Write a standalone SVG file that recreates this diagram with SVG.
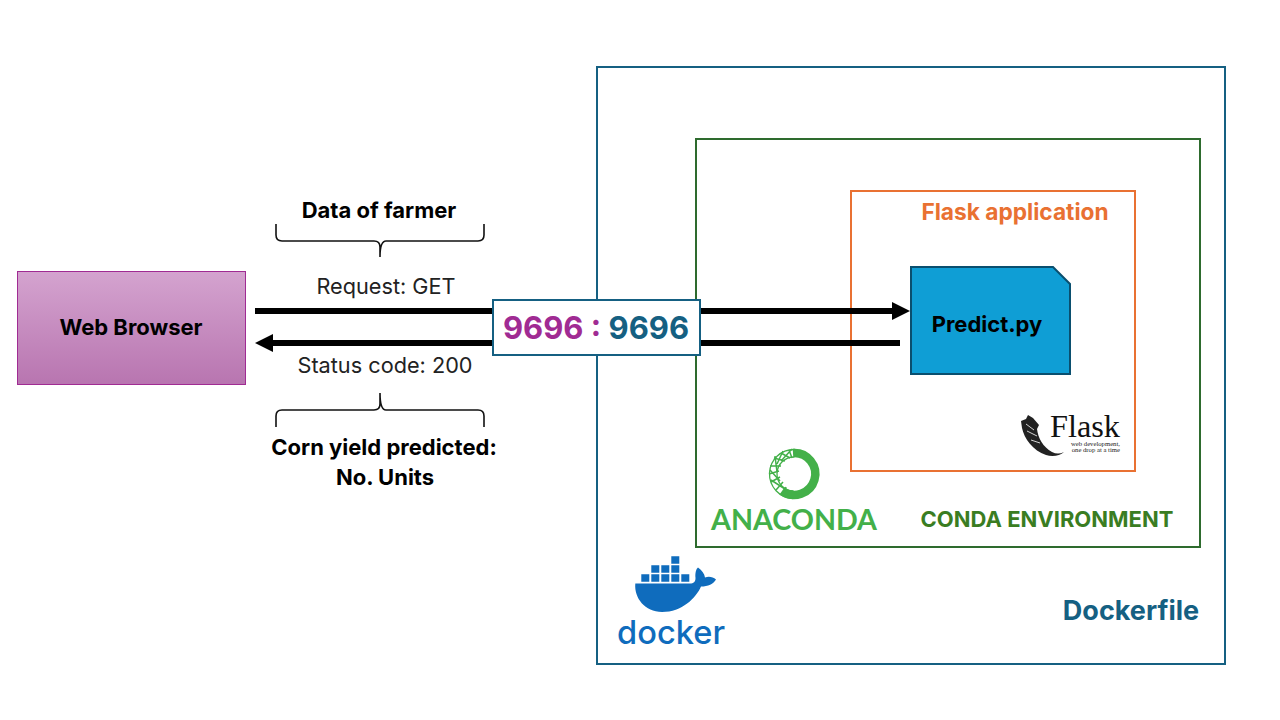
<svg xmlns="http://www.w3.org/2000/svg" width="1280" height="720" viewBox="0 0 1280 720">
<defs>
<marker id="arrow" markerUnits="userSpaceOnUse" markerWidth="19" markerHeight="18" refX="9" refY="9" orient="auto"><path d="M0 0L18 9L0 18Z" fill="#000"/></marker>
<linearGradient id="pg" x1="0" y1="0" x2="0" y2="1"><stop offset="0" stop-color="#d4a3cf"/><stop offset="1" stop-color="#b875b0"/></linearGradient>
</defs>
<style>
text{font-family:Inter,"Liberation Sans",sans-serif;text-anchor:middle}
.b{font-weight:700;font-size:22px;fill:#000}
.r{font-size:21.700px;fill:#222}
.frame{fill:none;stroke-width:2}
.link{stroke:#000;stroke-width:6;fill:none}
.brace{stroke:#111;stroke-width:1.600;fill:none}
</style>
<rect width="1280" height="720" fill="#fff"/>
<g id="dockerfile">
<rect class="frame" x="597" y="67" width="628" height="597" stroke="#156082"/>
<text x="1131" y="620" font-size="27" font-weight="700" fill="#156082">Dockerfile</text>
<g id="docker-logo" fill="#0f6cbd">
<path d="M671.300 556.300h8v7.400h-8zM651.300 565.300h8v7.400h-8zM661.300 565.300h8v7.400h-8zM671.300 565.300h8v7.400h-8zM641.300 574.300h8v7.400h-8zM651.300 574.300h8v7.400h-8zM661.300 574.300h8v7.400h-8zM671.300 574.300h8v7.400h-8zM681.300 574.300h8v7.400h-8z"/>
<path d="M635.300 583.500H690C693.500 583.500 695.500 582 695.500 578C695 573 696 569 698 567.500C702 570 704.500 574 705 577.500C709 576 713 577 716 579.500C713.500 584 708 586.500 701 586.500C696 598 682 612 662 612C645 612 634 598 635.300 583.500Z"/>
<text x="671" y="644" font-size="33" font-weight="500" textLength="108" lengthAdjust="spacingAndGlyphs">docker</text>
</g>
</g>
<g id="conda">
<rect class="frame" x="696" y="139" width="504" height="408" stroke="#2e6b2e"/>
<text x="1047" y="527" font-size="22" font-weight="700" fill="#3a7d22">CONDA ENVIRONMENT</text>
<g id="anaconda-logo">
<path d="M793 453A21 21 0 1 1 782 491" fill="none" stroke="#43b049" stroke-width="8.500"/>
<circle cx="794" cy="474" r="24.500" fill="none" stroke="#43b049" stroke-width="1.300" stroke-dasharray="77 77" transform="rotate(92 794 474)"/>
<circle cx="794" cy="474" r="17" fill="none" stroke="#43b049" stroke-width="1.300" stroke-dasharray="53 53" transform="rotate(92 794 474)"/>
<path d="M789 450L792 458M781 453L790 458M774 458L785 461M770 466L781 466M769 474L779 471M771 482L780 477M776 490L783 482M783 496L786 487M792 449L781 461M783 451L777 464M775 456L777 472M770 470L780 481M771 480L785 489" fill="none" stroke="#43b049" stroke-width="1.500"/>
<text x="794" y="530" font-size="28" font-weight="700" fill="#43b049" textLength="166" lengthAdjust="spacingAndGlyphs" style="font-family:Lato,sans-serif">ANACONDA</text>
</g>
</g>
<g id="flask">
<rect class="frame" x="851" y="191" width="284" height="280" stroke="#e97132"/>
<text x="1015" y="220" font-size="22.700" font-weight="700" fill="#e97132">Flask application</text>
<g id="flask-logo">
<path d="M1021 421L1026 419L1028 415L1033 418L1039 425L1037 429C1038 438 1043 447 1052 452C1056 454 1060 454 1064 452C1060 456 1052 457 1046 455C1033 451 1024 438 1022 428Z" fill="#222"/>
<path d="M1026 424L1034 430M1027 431L1037 436M1031 440L1040 443" stroke="#fff" stroke-width="0.800" fill="none"/>
<text x="1085" y="437" font-size="32" fill="#111" textLength="70" lengthAdjust="spacingAndGlyphs" style="font-family:'Liberation Serif',serif">Flask</text>
<text x="1120" y="445.500" font-size="6.700" fill="#222" style="font-family:'Liberation Serif',serif;text-anchor:end">web development,</text>
<text x="1120" y="452" font-size="6.700" fill="#222" style="font-family:'Liberation Serif',serif;text-anchor:end">one drop at a time</text>
</g>
</g>
<g id="connectors">
<path class="link" d="M255 311H901" marker-end="url(#arrow)"/>
<path class="link" d="M900 343H264" marker-end="url(#arrow)"/>
</g>
<g id="browser">
<rect x="17.500" y="271.500" width="228" height="113" fill="url(#pg)" stroke="#a02b93"/>
<text class="b" x="131" y="335">Web Browser</text>
</g>
<g id="predict">
<path d="M911 267H1053L1070 284V374H911Z" fill="#0f9ed5" stroke="#0a4f6f" stroke-width="2"/>
<text class="b" x="987" y="332">Predict.py</text>
</g>
<g id="port">
<rect x="493" y="300" width="207" height="55" fill="#fff" stroke="#156082" stroke-width="2"/>
<text x="596" y="339" font-size="31" font-weight="700"><tspan fill="#a02b93">9696 : </tspan><tspan fill="#156082">9696</tspan></text>
</g>
<g id="labels">
<text class="b" x="379" y="218">Data of farmer</text>
<path class="brace" d="M276 224V235Q276 241 282 241H374Q380 241 380 247V257Q380 241 386 241H478Q484 241 484 235V224"/>
<text class="r" x="386" y="294">Request: GET</text>
<text class="r" x="385" y="373">Status code: 200</text>
<path class="brace" d="M276 427V416Q276 410 282 410H374Q380 410 380 404V393Q380 410 386 410H478Q484 410 484 416V427"/>
<text class="b" x="384" y="455">Corn yield predicted:</text>
<text class="b" x="385" y="485">No. Units</text>
</g>
</svg>
